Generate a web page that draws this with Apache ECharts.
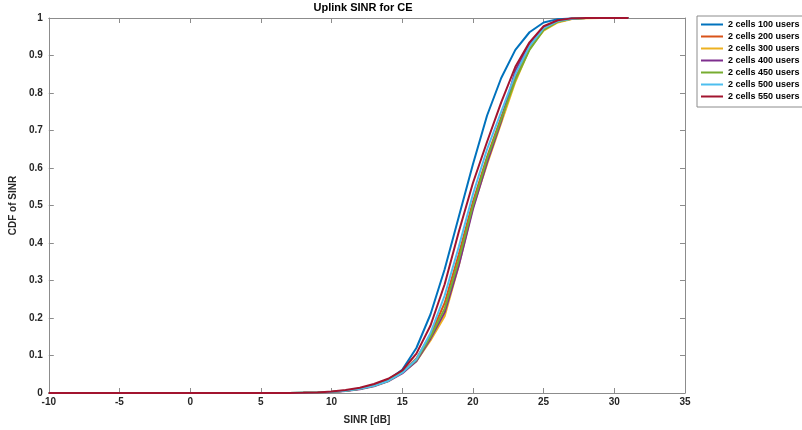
<!DOCTYPE html>
<html>
<head>
<meta charset="utf-8">
<script src="https://cdn.jsdelivr.net/npm/echarts@6/dist/echarts.min.js"></script>
<style>html,body{margin:0;padding:0;background:#fff;}#c{width:802px;height:430px;}</style>
</head>
<body>
<div id="c"></div>
<script>
var sinr = [-10,-9,-8,-7,-6,-5,-4,-3,-2,-1,0,1,2,3,4,5,6,7,8,9,10,11,12,13,14,15,16,17,18,19,20,21,22,23,24,25,26,27,28,29,30,31];
var users100 = [0,0,0,0,0,0,0,0,0,0,0,0,0,0,0,0,0,0,0.0005,0.001,0.003,0.006,0.011,0.02,0.035,0.062,0.12,0.21,0.33,0.47,0.61,0.74,0.84,0.915,0.962,0.988,0.997,0.999,1,1,1,1];
var users200 = [0,0,0,0,0,0,0,0,0,0,0,0,0,0,0,0,0,0,0.0005,0.001,0.003,0.006,0.011,0.02,0.033,0.056,0.092,0.155,0.24,0.37,0.51,0.63,0.735,0.84,0.92,0.97,0.99,0.998,1,1,1,1];
var users300 = [0,0,0,0,0,0,0,0,0,0,0,0,0,0,0,0,0,0,0.0004,0.001,0.003,0.006,0.011,0.019,0.032,0.055,0.085,0.14,0.205,0.34,0.495,0.61,0.72,0.83,0.918,0.966,0.988,0.997,0.999,1,1,1];
var users400 = [0,0,0,0,0,0,0,0,0,0,0,0,0,0,0,0,0,0,0.0004,0.001,0.0025,0.005,0.01,0.018,0.031,0.052,0.085,0.145,0.215,0.34,0.49,0.615,0.725,0.86,0.93,0.975,0.993,0.999,1,1,1,1];
var users450 = [0,0,0,0,0,0,0,0,0,0,0,0,0,0,0,0,0,0,0.0005,0.001,0.003,0.006,0.011,0.019,0.032,0.055,0.088,0.15,0.225,0.355,0.5,0.625,0.73,0.835,0.915,0.968,0.99,0.998,1,1,1,1];
var users500 = [0,0,0,0,0,0,0,0,0,0,0,0,0,0,0,0,0,0,0.0005,0.001,0.003,0.006,0.011,0.019,0.032,0.054,0.09,0.16,0.26,0.39,0.53,0.65,0.75,0.85,0.925,0.973,0.992,0.998,1,1,1,1];
var users550 = [0,0,0,0,0,0,0,0,0,0,0,0,0,0,0,0,0,0,0.0005,0.0015,0.004,0.008,0.014,0.024,0.038,0.06,0.105,0.18,0.29,0.43,0.56,0.67,0.775,0.87,0.935,0.978,0.994,0.999,1,1,1,1];
var seriesNames = ['2 cells 100 users','2 cells 200 users','2 cells 300 users','2 cells 400 users','2 cells 450 users','2 cells 500 users','2 cells 550 users'];
var seriesData = [users100,users200,users300,users400,users450,users500,users550];
var colors = ['#0072BD','#D95319','#EDB120','#7E2F8E','#77AC30','#4DBEEE','#A2142F'];

var font = 'Liberation Sans, Arial, sans-serif';
var axisCol = '#8c8c8c';
var labelStyle = {color:'#262626', fontSize:10, fontWeight:'bold', fontFamily:font};

function mkSeries(i){
  return {
    name: seriesNames[i], type:'line', showSymbol:false, symbol:'none',
    data: sinr.map(function(x,k){return [x, seriesData[i][k]];}),
    lineStyle:{width:2, color:colors[i]}, itemStyle:{color:colors[i]},
    emphasis:{disabled:true}, animation:false, z: 2 + i
  };
}

var chart = echarts.init(document.getElementById('c'));
chart.setOption({
  animation:false,
  color: colors,
  title:{text:'Uplink SINR for CE', left:363, top:2, padding:0, textAlign:'center',
    textStyle:{fontSize:11, fontWeight:'bold', color:'#000', fontFamily:font}},
  grid:{left:41, right:117, top:18, bottom:36, containLabel:false},
  legend:{orient:'vertical', left:697, top:16, itemWidth:22, itemHeight:10, itemGap:3,
    padding:[4,3,6,4], borderColor:'#8c8c8c', borderWidth:1, backgroundColor:'#fff',
    icon:'path://M0,0L22,0L22,2L0,2Z',
    textStyle:{fontSize:9, fontWeight:'bold', color:'#000', fontFamily:font},
    data: seriesNames},
  xAxis:[{
    type:'value', min:-10, max:35, interval:5, position:'bottom',
    name:'SINR [dB]', nameLocation:'middle', nameGap:22,
    nameTextStyle:{fontSize:10, fontWeight:'bold', color:'#262626', fontFamily:font},
    axisLine:{show:true, onZero:false, lineStyle:{color:axisCol}},
    axisTick:{show:true, inside:true, length:5, lineStyle:{color:axisCol}},
    axisLabel:Object.assign({margin:4}, labelStyle),
    splitLine:{show:false}
  },{
    type:'value', min:-10, max:35, interval:5, position:'top',
    axisLine:{show:true, onZero:false, lineStyle:{color:axisCol}},
    axisTick:{show:true, inside:true, length:5, lineStyle:{color:axisCol}},
    axisLabel:{show:false}, splitLine:{show:false}
  }],
  yAxis:[{
    type:'value', min:0, max:1, interval:0.1, position:'left',
    name:'CDF of SINR', nameLocation:'middle', nameGap:26,
    nameTextStyle:{fontSize:10, fontWeight:'bold', color:'#262626', fontFamily:font},
    axisLine:{show:true, onZero:false, lineStyle:{color:axisCol}},
    axisTick:{show:true, inside:true, length:5, lineStyle:{color:axisCol}},
    axisLabel:Object.assign({margin:6}, labelStyle),
    splitLine:{show:false}
  },{
    type:'value', min:0, max:1, interval:0.1, position:'right',
    axisLine:{show:true, onZero:false, lineStyle:{color:axisCol}},
    axisTick:{show:true, inside:true, length:5, lineStyle:{color:axisCol}},
    axisLabel:{show:false}, splitLine:{show:false}
  }],
  series: [0,1,2,3,4,5,6].map(mkSeries)
});
</script>
</body>
</html>
